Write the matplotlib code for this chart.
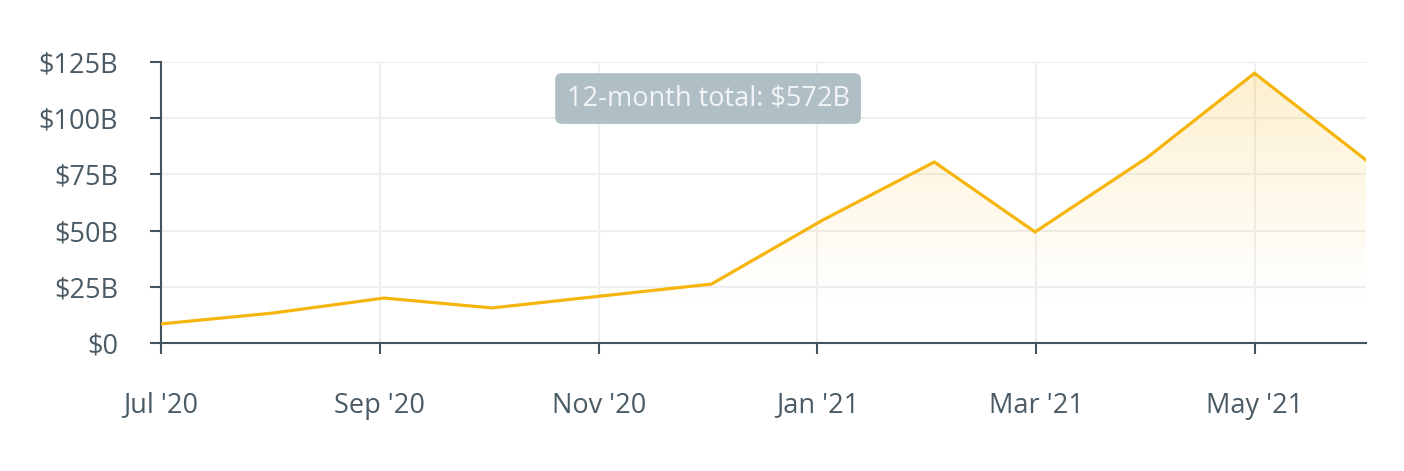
import matplotlib.pyplot as plt
import numpy as np
from matplotlib.colors import to_rgb

plt.rcParams['font.family'] = ['Open Sans', 'DejaVu Sans']

months = np.array(['2020-07', '2020-08', '2020-09', '2020-10', '2020-11', '2020-12',
                   '2021-01', '2021-02', '2021-03', '2021-04', '2021-05', '2021-06'],
                  dtype='datetime64[D]')
values = [8.5, 13.3, 20.0, 15.6, 21.0, 26.2, 54.7, 80.5, 49.4, 82.3, 120.0, 81.4]
x_tick_labels = ['Jul \'20', 'Sep \'20', 'Nov \'20', 'Jan \'21', 'Mar \'21', 'May \'21']
y_ticks = [0, 25, 50, 75, 100, 125]
total_label = '12-month total: $572B'

line_color = '#f5b50c'
axis_color = '#45555f'
text_color = '#4a5b66'

fig = plt.figure(figsize=(14.04, 4.71), dpi=100)
ax = fig.add_axes([161 / 1404, 1 - 343 / 471, (1366 - 161) / 1404, (343 - 62) / 471])

# time axis in days since the first month
x = (months - months[0]).astype(float)

# gradient fill under the line, clipped to the area polygon
poly = ax.fill_between(x, values, 0, color='none', lw=0)
rgb = to_rgb(line_color)
grad = np.zeros((256, 1, 4))
grad[:, 0, :3] = rgb
t = np.linspace(1.0, 0.0, 256)  # 1 at top, 0 at bottom
grad[:, 0, 3] = 0.22 * np.clip((t - 0.12) / 0.88, 0, 1) ** 1.2
img = ax.imshow(grad, aspect='auto', extent=[x[0], x[-1], 0, 125], origin='upper', zorder=1)
img.set_clip_path(poly.get_paths()[0], transform=ax.transData)

ax.plot(x, values, color=line_color, lw=2.3, zorder=3, solid_joinstyle='miter')

ax.set_xlim(x[0], x[-1])
ax.set_ylim(0, 125)
# ticks every two months (average month length)
ax.set_xticks(np.arange(len(x_tick_labels)) * 365 / 6)
ax.set_xticklabels(x_tick_labels)
ax.set_yticks(y_ticks)
ax.set_yticklabels(['$0' if v == 0 else f'${v}B' for v in y_ticks])

ax.grid(True, color='#efefef', lw=1.5, zorder=0)
ax.set_axisbelow(True)

for s in ['top', 'right']:
    ax.spines[s].set_visible(False)
for s in ['left', 'bottom']:
    ax.spines[s].set_color(axis_color)
    ax.spines[s].set_linewidth(1.5)

ax.tick_params(axis='y', length=8, width=1.5, color=axis_color, pad=23,
               labelsize=19.5, labelcolor=text_color)
ax.tick_params(axis='x', length=8, width=1.5, color=axis_color, pad=27,
               labelsize=19.5, labelcolor=text_color)

ax.text(0.454, 0.870, total_label, transform=ax.transAxes, ha='center', va='center',
        fontsize=19.5, color='#f2f5f6', zorder=5,
        bbox=dict(boxstyle='round,pad=0.42,rounding_size=0.25', fc='#b0bec5', ec='none'))

fig.savefig('out.png', dpi=100)
